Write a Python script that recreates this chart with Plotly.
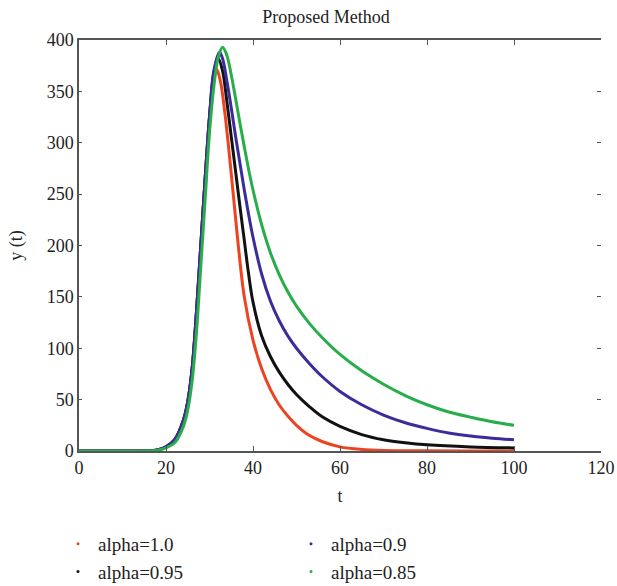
import plotly.graph_objects as go

# ---- data ----
t_red = [0, 5, 10, 15, 18, 20, 22, 24, 25, 26, 27, 28, 29, 30, 31, 31.6, 32.5, 33.5, 35, 36.5, 38, 40, 42, 44, 46, 48, 50, 53, 56, 60, 65, 70, 80, 90, 100]
y_red = [0, 0, 0, 0.2, 1, 4, 11, 30, 48, 80, 135, 200, 265, 325, 362, 372, 360, 330, 270, 205, 150, 108, 80, 60, 45, 34, 25, 15, 9, 4, 1.5, 0.5, 0.2, 0.1, 0.1]

t_black = [0, 5, 10, 15, 18, 20, 22, 24, 25, 26, 27, 28, 29, 30, 31, 32, 33, 34, 35, 36, 37, 38, 39, 40, 42, 44, 46, 48, 50, 53, 56, 60, 65, 70, 75, 80, 90, 100]
y_black = [0, 0, 0, 0.2, 1, 4, 11, 30, 48, 80, 135, 200, 265, 325, 368, 382, 370, 340, 306, 272, 238, 205, 172, 145, 112, 92, 77, 65, 55, 43, 33, 24, 16, 11, 8, 6, 4, 3]

t_blue = [0, 5, 10, 15, 18, 20, 22, 24, 25, 26, 27, 28, 29, 30, 31, 32.3, 33, 34, 35, 36, 37, 38, 39, 40, 42, 44, 46, 48, 50, 53, 56, 60, 65, 70, 75, 80, 85, 90, 95, 100]
y_blue = [0, 0, 0, 0.2, 1, 4, 11, 30, 48, 80, 135, 200, 265, 325, 370, 388, 382, 360, 334, 306, 280, 254, 230, 208, 172, 146, 127, 112, 100, 85, 72, 58, 45, 35, 27.5, 22, 17.5, 14.5, 12.5, 11]

t_green = [0, 5, 10, 15, 18, 20, 22, 24, 25, 26, 27, 28, 29, 30, 31, 32, 33, 34, 35, 36, 37, 38, 39, 40, 42, 44, 46, 48, 50, 53, 56, 60, 65, 70, 75, 80, 85, 90, 95, 100]
y_green = [0, 0, 0, 0.1, 0.8, 3, 8, 24, 40, 68, 115, 180, 245, 310, 355, 383, 393, 385, 366, 343, 319, 296, 274, 254, 220, 193, 172, 155, 141, 124, 110, 94, 78, 65, 54, 45, 38, 33, 28.5, 25]

series = [
    ("alpha=1.0", t_red, y_red, "#ee4322"),
    ("alpha=0.95", t_black, y_black, "#111111"),
    ("alpha=0.9", t_blue, y_blue, "#3b2c9c"),
    ("alpha=0.85", t_green, y_green, "#27ad4a"),
]
legend_order = ["alpha=1.0", "alpha=0.9", "alpha=0.95", "alpha=0.85"]

x_ticks = [0, 20, 40, 60, 80, 100, 120]
y_ticks = [0, 50, 100, 150, 200, 250, 300, 350, 400]

FONT = "Liberation Serif"
W, H = 617, 586

fig = go.Figure()
for name, tx, ty, col in series:
    fig.add_trace(go.Scatter(x=tx, y=ty, mode="lines", name=name,
                             line=dict(color=col, width=3, shape="spline", smoothing=1.0),
                             showlegend=False))
colors = {n: c for n, _, _, c in series}
for name in legend_order:
    fig.add_trace(go.Scatter(x=[None], y=[None], mode="markers", name=name,
                             marker=dict(color=colors[name], size=3), showlegend=True))
# invisible trace for right-hand tick axis
fig.add_trace(go.Scatter(x=[None], y=[None], yaxis="y2", showlegend=False, hoverinfo="skip"))

fig.update_layout(
    width=W, height=H,
    margin=dict(l=79, r=16, t=40, b=135),
    paper_bgcolor="white", plot_bgcolor="white",
    font=dict(family=FONT, size=17, color="#222222"),
    title=dict(text="Proposed Method", x=326 / W, xanchor="center", xref="container",
               y=1 - 17 / H, yref="container", yanchor="middle",
               font=dict(family=FONT, size=18, color="#222222")),
    xaxis=dict(range=[0, 120], tickvals=x_ticks, showgrid=False, zeroline=False,
               automargin=False,
               showline=True, linecolor="#555555", linewidth=1.5, mirror="ticks",
               ticks="inside", ticklen=5, tickcolor="#555555",
               tickfont=dict(family=FONT, size=18),
               title=dict(text="t", font=dict(family=FONT, size=18), standoff=12)),
    yaxis=dict(range=[0, 400], tickvals=y_ticks, showgrid=False, zeroline=False,
               automargin=False,
               showline=True, linecolor="#555555", linewidth=1.5,
               ticks="inside", ticklen=3, tickcolor="#555555",
               tickfont=dict(family=FONT, size=18),
               title=dict(text="y (t)", font=dict(family=FONT, size=18), standoff=19)),
    yaxis2=dict(range=[0, 400], tickvals=y_ticks[1:-1], overlaying="y", side="right",
                automargin=False,
                showgrid=False, zeroline=False, showline=False, showticklabels=False,
                ticks="inside", ticklen=4, tickcolor="#555555"),
    legend=dict(orientation="h", xref="container", x=58 / W, xanchor="left",
                yref="container", y=1 - 525 / H, yanchor="top",
                entrywidth=188, entrywidthmode="pixels", itemwidth=30,
                font=dict(family=FONT, size=19), tracegroupgap=0),
)

fig.write_html("out.html",
               config={"displayModeBar": False},
               post_script="document.body.style.margin='0';document.body.style.overflow='hidden';")
